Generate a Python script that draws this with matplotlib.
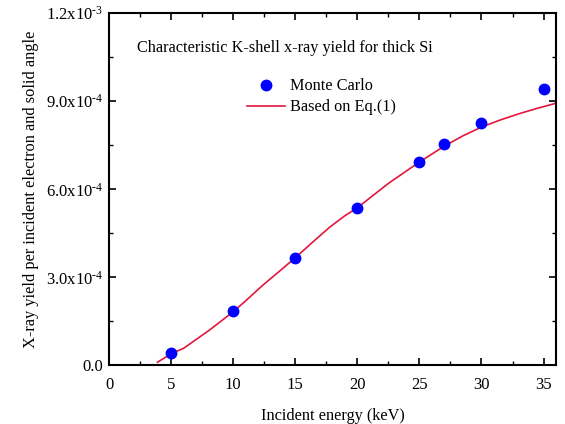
import numpy as np
import matplotlib
matplotlib.use("Agg")
import matplotlib.pyplot as plt
from matplotlib.ticker import MultipleLocator, FuncFormatter

plt.rcParams['font.family'] = ['Liberation Serif', 'DejaVu Serif']
plt.rcParams['mathtext.fontset'] = 'custom'
plt.rcParams['mathtext.rm'] = 'Liberation Serif'
plt.rcParams['mathtext.it'] = 'Liberation Serif:italic'

# Monte Carlo points
mc_energy = [5, 10, 15, 20, 25, 27, 30, 35]
mc_yield = [4.3e-5, 1.84e-4, 3.67e-4, 5.37e-4, 6.93e-4, 7.54e-4, 8.26e-4, 9.42e-4]

# curve based on Eq.(1)
eq_energy = [3.9, 5, 6, 7, 8.1, 10, 11, 12.4, 13.7, 15, 16.4, 17.8, 19, 20,
             21.2, 22.5, 23.8, 25, 27, 28.5, 30, 31.5, 33, 34.5, 36]
eq_yield = [1.1e-5, 4.0e-5, 5.85e-5, 8.8e-5, 1.21e-4, 1.83e-4, 2.2e-4, 2.74e-4,
            3.2e-4, 3.67e-4, 4.2e-4, 4.72e-4, 5.1e-4, 5.37e-4,
            5.77e-4, 6.2e-4, 6.58e-4, 6.93e-4, 7.47e-4, 7.82e-4, 8.12e-4,
            8.36e-4, 8.57e-4, 8.76e-4, 8.93e-4]

y_tick_labels = {0: "0.0", 3: r"3.0x10$^{\text{-4}}$", 6: r"6.0x10$^{\text{-4}}$",
                 9: r"9.0x10$^{\text{-4}}$", 12: r"1.2x10$^{\text{-3}}$"}


def ylab(v, pos):
    k = int(round(v / 1e-4))
    return y_tick_labels.get(k, "")


fig = plt.figure(figsize=(5.65, 4.24), dpi=100)
ax = fig.add_axes([0.193, 0.138, 0.791, 0.831])

ax.plot(eq_energy, eq_yield, color='#e3173e', lw=1.2, label='Based on Eq.(1)', zorder=2)
ax.plot(mc_energy, mc_yield, 'o', color='#0000ff', ms=7.5, label='Monte Carlo', zorder=3)

ax.set_xlim(0, 36)
ax.set_ylim(0, 1.2e-3)
ax.xaxis.set_major_locator(MultipleLocator(5))
ax.xaxis.set_minor_locator(MultipleLocator(2.5))
ax.yaxis.set_major_locator(MultipleLocator(3e-4))
ax.yaxis.set_minor_locator(MultipleLocator(1.5e-4))
ax.yaxis.set_major_formatter(FuncFormatter(ylab))

ax.tick_params(which='both', direction='in', top=True, right=True, labelsize=12)
ax.tick_params(which='major', length=5, width=1.2)
ax.tick_params(which='minor', length=3, width=1.0)
ax.tick_params(axis='x', pad=8)
ax.tick_params(axis='y', pad=4)
for s in ax.spines.values():
    s.set_linewidth(1.5)

ax.set_xlabel('Incident energy (keV)', fontsize=11.7, labelpad=11)
ax.set_ylabel('X-ray yield per incident electron and solid angle', fontsize=11.8, labelpad=5)

ax.text(0.063, 0.902, 'Characteristic K-shell x-ray yield for thick Si',
        transform=ax.transAxes, fontsize=11.7, va='center')

handles, labels = ax.get_legend_handles_labels()
ax.legend(handles[::-1], labels[::-1], loc='upper left', bbox_to_anchor=(0.295, 0.833),
          frameon=False, fontsize=11.7, handlelength=2.3, handletextpad=0.3,
          labelspacing=0.3, borderaxespad=0)

fig.savefig('out.png', dpi=100)
